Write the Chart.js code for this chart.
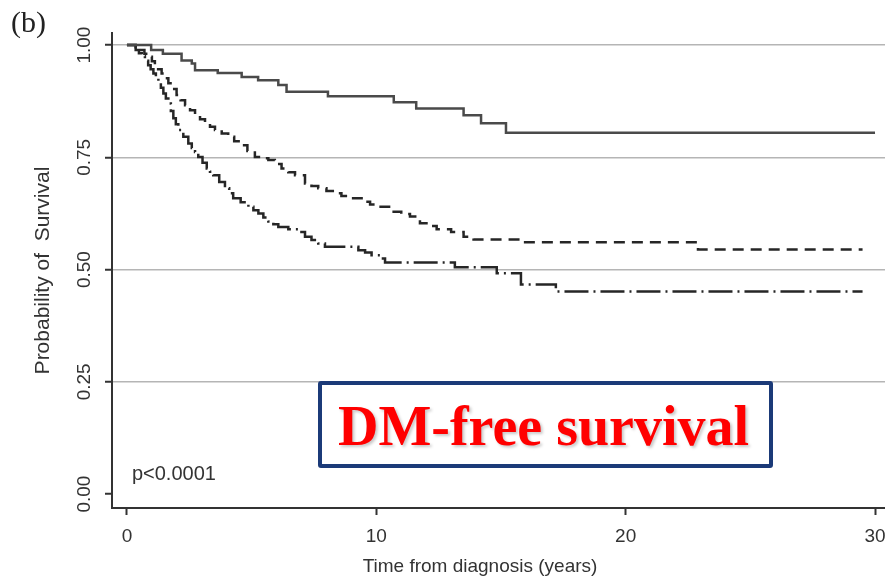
<!DOCTYPE html>
<html>
<head>
<meta charset="utf-8">
<script src="https://cdn.jsdelivr.net/npm/chart.js@4.4.1/dist/chart.umd.min.js"></script>
<style>
  html, body { margin: 0; padding: 0; background: #fff; }
  #wrap { position: relative; width: 885px; height: 580px; overflow: hidden; }
  #c { display: block; }
  #panel {
    position: absolute; left: 11px; top: 5px;
    font: 30px "Liberation Serif", "Times New Roman", serif; color: #222;
  }
  #badge {
    position: absolute; left: 318px; top: 381px; width: 455px; height: 87px;
    box-sizing: border-box; border: 4px solid #1b3a78; border-radius: 3px; background: #fff;
  }
  #badge span {
    position: absolute; left: 16px; top: 13px; white-space: nowrap;
    font: bold 56px/1 "Liberation Serif", "Times New Roman", serif; color: #ff0000;
    text-shadow: 2px 2px 3px rgba(0,0,0,0.22);
  }
</style>
</head>
<body>
<div id="wrap">
  <canvas id="c" width="885" height="580"></canvas>
  <div id="panel">(b)</div>
  <div id="badge"><span>DM-free survival</span></div>
</div>
<script>
// Kaplan–Meier estimates: time (years) at which each step begins, and survival from then on
const yearsA = [0, 0.97, 1.44, 2.19, 2.6, 2.73, 3.64, 4.6, 5.26, 6.07, 6.4, 8.06, 10.7, 11.6, 13.5, 14.2, 15.2, 30];
const survA  = [1, 0.989, 0.981, 0.966, 0.959, 0.944, 0.938, 0.929, 0.922, 0.911, 0.896, 0.886, 0.873, 0.859, 0.844, 0.826, 0.805, 0.805];

const yearsB = [0, 0.35, 0.52, 0.7, 0.85, 1.0, 1.12, 1.25, 1.39, 1.52, 1.66, 1.82, 1.99, 2.15, 2.33, 2.53, 2.73, 2.93, 3.13, 3.33, 3.53, 3.8, 4.06, 4.3, 4.53, 4.83, 5.13, 5.4, 5.67, 5.93, 6.2, 6.47, 6.74, 7.14, 7.4, 7.67, 8.0, 8.34, 8.6, 8.88, 9.41, 9.75, 10.08, 10.6, 11.0, 11.35, 11.75, 12.1, 12.42, 13.0, 13.5, 13.9, 15.9, 22.9, 29.5];
const survB  = [1, 0.995, 0.989, 0.981, 0.974, 0.964, 0.955, 0.946, 0.937, 0.926, 0.915, 0.902, 0.889, 0.877, 0.866, 0.855, 0.844, 0.835, 0.826, 0.818, 0.811, 0.803, 0.796, 0.786, 0.777, 0.764, 0.751, 0.748, 0.744, 0.735, 0.725, 0.717, 0.710, 0.692, 0.686, 0.681, 0.675, 0.670, 0.664, 0.659, 0.651, 0.645, 0.640, 0.629, 0.624, 0.618, 0.603, 0.597, 0.590, 0.584, 0.573, 0.567, 0.561, 0.545, 0.545];

const yearsC = [0, 0.35, 0.48, 0.6, 0.72, 0.85, 0.95, 1.06, 1.16, 1.26, 1.36, 1.46, 1.56, 1.66, 1.76, 1.86, 1.96, 2.06, 2.26, 2.46, 2.6, 2.73, 2.86, 3.03, 3.2, 3.33, 3.46, 3.7, 3.93, 4.1, 4.26, 4.56, 4.87, 5.07, 5.27, 5.47, 5.67, 5.87, 6.07, 6.47, 6.87, 7.14, 7.4, 7.67, 7.94, 9.28, 9.55, 9.81, 10.2, 10.35, 13.15, 14.83, 15.8, 17.2, 29.5];
const survC  = [1, 0.989, 0.982, 0.975, 0.965, 0.955, 0.946, 0.937, 0.927, 0.918, 0.905, 0.892, 0.881, 0.870, 0.853, 0.837, 0.824, 0.811, 0.796, 0.781, 0.771, 0.762, 0.751, 0.738, 0.725, 0.718, 0.710, 0.695, 0.681, 0.670, 0.659, 0.650, 0.640, 0.632, 0.625, 0.616, 0.607, 0.601, 0.595, 0.590, 0.584, 0.573, 0.566, 0.558, 0.551, 0.543, 0.538, 0.532, 0.525, 0.516, 0.505, 0.492, 0.467, 0.451, 0.451];

const xTicks = [0, 10, 20, 30];
const yTicks = [0, 0.25, 0.5, 0.75, 1];
const xTitle = 'Time from diagnosis (years)';
const yTitle = 'Probability of  Survival';
const pLabel = 'p<0.0001';

const SANS = '"Liberation Sans", Arial, Helvetica, sans-serif';
const INK = '#333';

const toPoints = (ts, ss) => ts.map((t, i) => ({ x: t, y: ss[i] }));

// p-value and x-axis caption drawn on top of the plot
const captions = {
  id: 'captions',
  afterDraw(chart) {
    const { ctx, scales: { x, y } } = chart;
    ctx.save();
    ctx.fillStyle = INK;
    ctx.textBaseline = 'alphabetic';
    ctx.textAlign = 'left';
    ctx.font = '20px ' + SANS;
    ctx.fillText(pLabel, x.getPixelForValue(0.2), y.getPixelForValue(0.031));
    ctx.textAlign = 'center';
    ctx.font = '19px ' + SANS;
    ctx.fillText(xTitle, 480, 572);
    ctx.restore();
  }
};

new Chart(document.getElementById('c'), {
  type: 'line',
  data: {
    datasets: [
      { data: toPoints(yearsA, survA), borderColor: '#4a4a4a', borderWidth: 2.5, stepped: true },
      { data: toPoints(yearsB, survB), borderColor: '#262626', borderWidth: 2.5, stepped: true, borderDash: [11, 7] },
      { data: toPoints(yearsC, survC), borderColor: '#262626', borderWidth: 2.5, stepped: true, borderDash: [24, 5, 2, 5] }
    ]
  },
  options: {
    responsive: false,
    animation: false,
    devicePixelRatio: 1,
    layout: { padding: { top: 33, left: 0, right: 0, bottom: 0 } },
    elements: { point: { radius: 0 }, line: { tension: 0, borderCapStyle: 'butt', fill: false } },
    plugins: { legend: { display: false }, tooltip: { enabled: false } },
    scales: {
      x: {
        type: 'linear', min: -0.6, max: 30.4,
        afterBuildTicks: s => { s.ticks = xTicks.map(v => ({ value: v })); },
        afterFit: s => { s.height = 72; s.paddingLeft = 0; s.paddingRight = 0; },
        ticks: { padding: 10, color: INK, font: { family: SANS, size: 19 }, maxRotation: 0, autoSkip: false },
        grid: { display: true, drawOnChartArea: false, drawTicks: true, tickLength: 7, tickColor: INK, tickWidth: 2 },
        border: { display: true, color: INK, width: 2 },
        title: { display: false }
      },
      y: {
        type: 'linear', min: -0.031, max: 1.027,
        afterBuildTicks: s => { s.ticks = yTicks.map(v => ({ value: v })); },
        afterFit: s => { s.width = 112; s.paddingTop = 0; s.paddingBottom = 0; },
        ticks: {
          minRotation: 90, maxRotation: 90, crossAlign: 'center', padding: 2,
          color: INK, font: { family: SANS, size: 19 },
          callback: v => Number(v).toFixed(2)
        },
        grid: {
          color: c => (c.tick && c.tick.value === 0) ? 'rgba(0,0,0,0)' : '#b5b5b5',
          lineWidth: 1.5, drawTicks: true, tickLength: 7, tickColor: INK, tickWidth: 2
        },
        border: { display: true, color: INK, width: 2 },
        title: {
          display: true, text: yTitle, color: INK,
          font: { family: SANS, size: 21 }, padding: { top: 31, bottom: 0 }
        }
      }
    }
  },
  plugins: [captions]
});
</script>
</body>
</html>
